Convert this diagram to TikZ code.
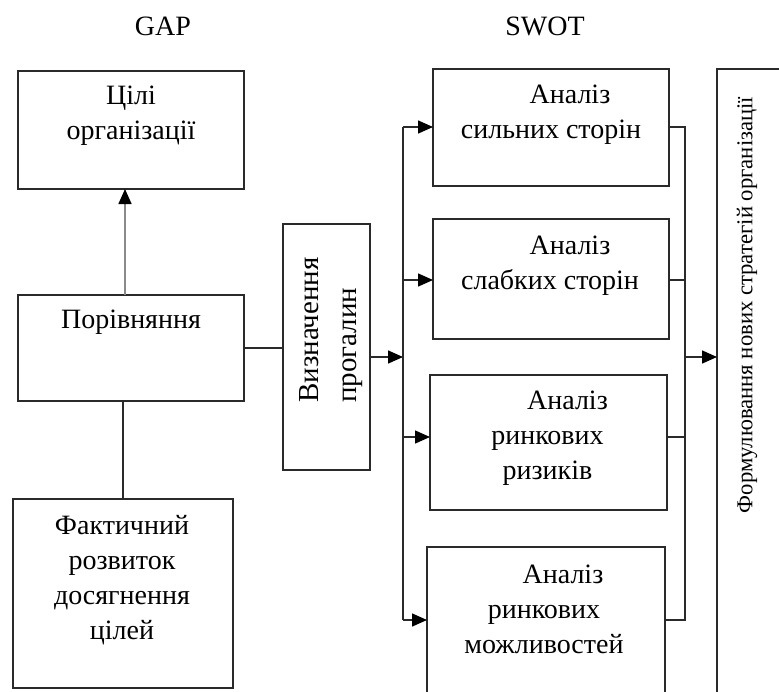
\documentclass[tikz,border=0pt]{standalone}
\usepackage{fontspec}
\setmainfont{Liberation Serif}
\usetikzlibrary{arrows.meta}
\definecolor{ln}{HTML}{2A2A2A}
\definecolor{gr}{HTML}{8A8A8A}
\tikzset{
  box/.style={draw=ln, line width=2pt, rectangle, inner sep=0pt, outer sep=0pt},
  txt/.style={align=center, inner sep=0pt, font=\fontsize{28}{35}\selectfont},
  conn/.style={draw=ln, line width=1.5pt},
  arr/.style={conn, -{Triangle[length=15pt,width=13pt,color=black]}},
}
\begin{document}
\begin{tikzpicture}[x=1pt,y=-1pt]
\useasboundingbox (0,0) rectangle (779,691);
\clip (0,0) rectangle (779,691);
\fill[white] (0,0) rectangle (779,691);
% titles
\node[txt] (tgap) at (163,26) {GAP};
\node[txt] (tswot) at (545,26) {SWOT};
% GAP boxes
\node[box, minimum width=226pt, minimum height=118pt] (goals) at (131,130) {};
\node[box, minimum width=226pt, minimum height=106pt] (comp) at (131,348) {};
\node[box, minimum width=220pt, minimum height=189pt] (fact) at (123,593.5) {};
\node[box, minimum width=87pt, minimum height=246pt] (gapdef) at (326.5,347) {};
% SWOT boxes
\node[box, minimum width=236pt, minimum height=117pt] (s1) at (551,127.5) {};
\node[box, minimum width=236pt, minimum height=120pt] (s2) at (551,279) {};
\node[box, minimum width=237pt, minimum height=135pt] (s3) at (548.5,442.5) {};
\node[box, minimum width=238pt, minimum height=173pt] (s4) at (546,633.5) {};
\node[box, minimum width=83pt, minimum height=651pt] (form) at (758.5,394.5) {};
% texts
\node[txt] (goalst) at (131,115.5) {Цілі\\організації};
\node[txt] (compt) at (131,322) {Порівняння};
\node[txt] (factt) at (122,580) {Фактичний\\розвиток\\досягнення\\цілей};
\node[txt, rotate=90, anchor=west, align=left, font=\fontsize{29}{38}\selectfont] (gapdeft) at (331,403) {Визначення\\прогалин};
\node[txt] (s1t) at (551,115) {\hspace*{38pt}Аналіз\\сильних сторін};
\node[txt] (s2t) at (550,265.5) {\hspace*{40pt}Аналіз\\слабких сторін};
\node[txt] (s3t) at (547.5,438) {\hspace*{40pt}Аналіз\\ринкових\\ризиків};
\node[txt] (s4t) at (544,609) {\hspace*{38pt}Аналіз\\ринкових\\можливостей};
\node[txt, rotate=90, font=\fontsize{22.7}{26}\selectfont] (formt) at (747,305) {Формулювання нових стратегій організації};
% GAP connectors
\draw[arr, draw=gr] ([xshift=-6pt]comp.north) -- ([xshift=-6pt]goals.south);
\draw[conn] ([xshift=-8pt]comp.south) -- (fact.north);
\draw[conn] (comp.east) -- (comp.east -| gapdef.west);
% split
\coordinate (split) at (403,357);
\coordinate (vtop) at (403,127);
\coordinate (v2) at (403,280);
\coordinate (v3) at (403,437);
\coordinate (vbot) at (403,620);
\draw[arr] (gapdef.east |- split) -- (split);
\draw[conn] (vtop) -- (vbot);
\draw[arr] (vtop) -- (vtop -| s1.west);
\draw[arr] (v2) -- (v2 -| s2.west);
\draw[arr] (v3) -- (v3 -| s3.west);
\draw[arr] (vbot) -- (vbot -| s4.west);
% collector
\coordinate (ctop) at (685,127);
\coordinate (c2) at (685,280);
\coordinate (c3) at (685,437);
\coordinate (cbot) at (685,620);
\coordinate (cmid) at (685,357);
\draw[conn] (ctop -| s1.east) -- (ctop) -- (cbot) -- (cbot -| s4.east);
\draw[conn] (c2 -| s2.east) -- (c2);
\draw[conn] (c3 -| s3.east) -- (c3);
\draw[arr] (cmid) -- (cmid -| form.west);
\end{tikzpicture}
\end{document}
